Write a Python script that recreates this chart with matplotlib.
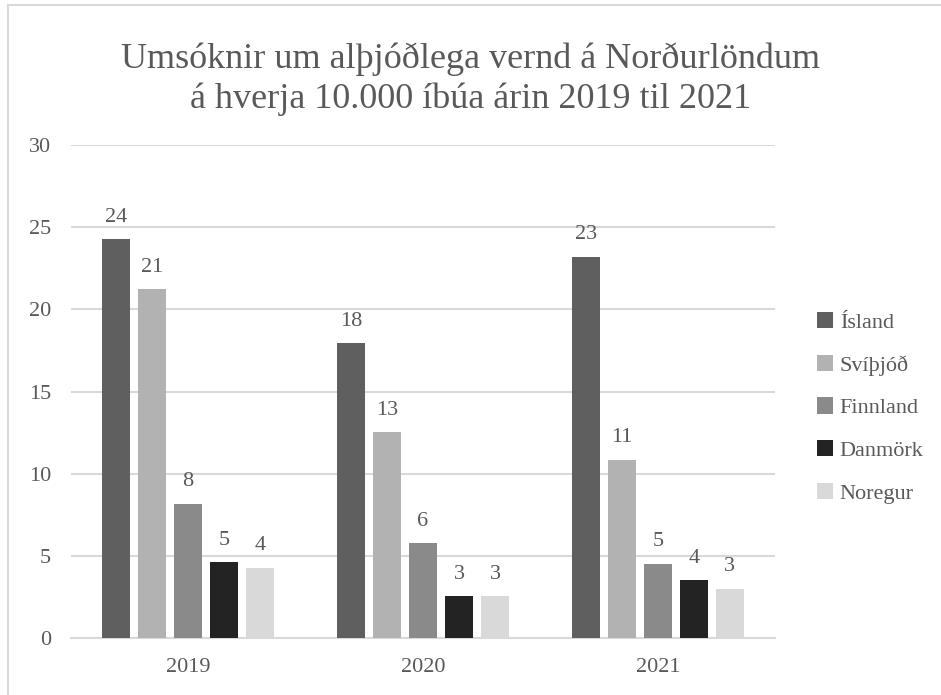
import matplotlib

matplotlib.use("Agg")
import matplotlib.pyplot as plt
import numpy as np
from matplotlib.patches import Rectangle

years = ["2019", "2020", "2021"]
countries = ["Ísland", "Svíþjóð", "Finnland", "Danmörk", "Noregur"]
island = [24.27, 17.94, 23.19]
svithjod = [21.22, 12.52, 10.87]
finnland = [8.19, 5.77, 4.53]
danmork = [4.62, 2.57, 3.52]
noregur = [4.28, 2.55, 3.02]
colors = ["#5f5f5f", "#b2b2b2", "#8a8a8a", "#232323", "#d9d9d9"]

TEXT = "#595959"
plt.rcParams["font.family"] = "serif"
plt.rcParams["font.serif"] = ["Liberation Serif", "Times New Roman", "DejaVu Serif"]

series = [island, svithjod, finnland, danmork, noregur]

fig = plt.figure(figsize=(9.41, 6.95), dpi=100)
ax = fig.add_axes([0.075, 0.0816, 0.749, 0.7098])

x = np.arange(len(years))
pitch = 36 / 235
width = 28 / 235
for i, (name, vals, col) in enumerate(zip(countries, series, colors)):
    offs = (i - 2) * pitch
    bars = ax.bar(x + offs, vals, width=width, color=col, label=name, zorder=3)
    for b, v in zip(bars, vals):
        ax.annotate(f"{v:.0f}", (b.get_x() + b.get_width() / 2, v),
                    xytext=(0, 9), textcoords="offset points",
                    ha="center", va="bottom", fontsize=16, color=TEXT)

ax.set_xlim(-0.5, 2.5)
ax.set_ylim(0, 30)
ax.set_yticks(range(0, 31, 5))
ax.set_xticks(x)
ax.set_xticklabels(years)
ax.grid(axis="y", color="#d9d9d9", linewidth=1.5, zorder=0)
for s in ["top", "right", "left"]:
    ax.spines[s].set_visible(False)
ax.spines["bottom"].set_color("#d9d9d9")
ax.spines["bottom"].set_linewidth(1.5)
ax.tick_params(axis="both", length=0, labelsize=16, labelcolor=TEXT)
ax.tick_params(axis="y", pad=14)
ax.tick_params(axis="x", pad=14)

ax.legend(loc="center left", bbox_to_anchor=(1.03, 0.467), frameon=False,
          fontsize=16, labelcolor=TEXT, handlelength=0.75, handleheight=0.75,
          handletextpad=0.3, labelspacing=0.98)

fig.text(0.5, 0.886, "Umsóknir um alþjóðlega vernd á Norðurlöndum\ná hverja 10.000 íbúa árin 2019 til 2021",
         ha="center", va="center", fontsize=26, color=TEXT, linespacing=1.27)

fig.patches.append(Rectangle((8 / 941, -0.1), 1.2, 1.1 - 5 / 695, transform=fig.transFigure,
                             fill=False, edgecolor="#d9d9d9", linewidth=1.5))

fig.savefig("out.png", dpi=100)
